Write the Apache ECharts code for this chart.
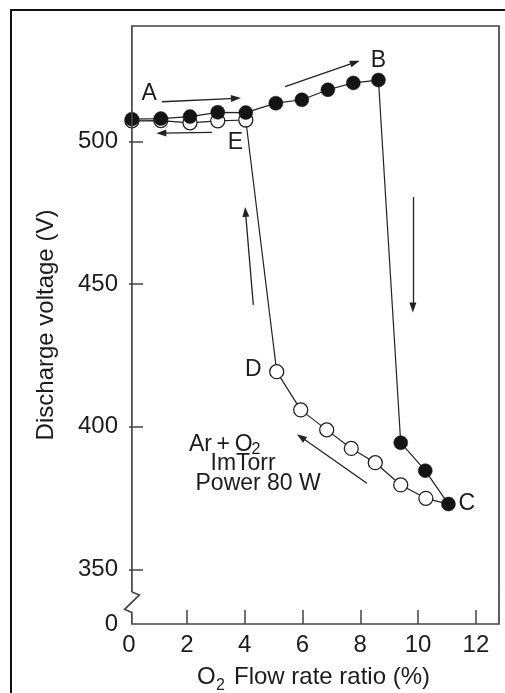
<!DOCTYPE html>
<html>
<head>
<meta charset="utf-8">
<script src="https://cdn.jsdelivr.net/npm/echarts@6/dist/echarts.min.js"></script>
<style>
  html, body { margin: 0; padding: 0; background: #fff; }
  #chart { width: 505px; height: 693px; }
</style>
</head>
<body>
<div id="chart"></div>
<script>
// O2 flow rate ratio (%) and discharge voltage (V) while the O2 share is raised: A -> B -> C
const risingX = [0.10, 1.10, 2.11, 3.07, 4.04, 5.08, 5.98, 6.88, 7.76, 8.63, 9.40, 10.25, 11.05];
const risingV = [507.8, 508.0, 508.7, 510.2, 510.1, 513.4, 514.6, 518.1, 520.5, 521.5, 394.4, 384.6, 372.9];

// ... and while it is lowered again: C -> D -> E -> A
const fallingX = [11.05, 10.27, 9.40, 8.52, 7.69, 6.84, 5.94, 5.11, 4.04, 3.07, 2.11, 1.10, 0.10];
const fallingV = [372.9, 374.9, 379.6, 387.4, 392.4, 398.9, 405.9, 419.3, 507.5, 507.2, 506.5, 507.3, 507.2];

// axis ticks
const xTicks = [2, 4, 6, 8, 10, 12];
const xTickLabels = [0, 2, 4, 6, 8, 10, 12];
const yTicks = [350, 400, 450, 500];

// direction arrows, in axis units: [fromX, fromV, toX, toV]
const arrows = [
  [1.14, 513.9, 3.70, 515.1],
  [2.87, 503.2, 1.12, 502.9],
  [5.40, 519.2, 7.82, 527.7],
  [9.82, 480.5, 9.82, 441.8],
  [4.30, 442.7, 4.03, 475.3],
  [8.23, 380.2, 5.95, 396.4]
];

const X_MIN = 0, X_MAX = 12.8;
const Y_MIN = 330.86, Y_MAX = 540.45;
const AXIS_X = 0.1;            // where the voltage axis crosses
const FONT = "'Liberation Sans', Arial, Helvetica, sans-serif";
const INK = '#1c1c1c';
const FRAME = '#444';

const chart = echarts.init(document.getElementById('chart'), null, { renderer: 'canvas' });

const toPairs = (xs, ys) => xs.map((x, i) => [x, ys[i]]);
const fallingData = toPairs(fallingX, fallingV).map((p, i) =>
  i === 0 ? { value: p, symbol: 'none' } : { value: p });

const tickStyle = { color: FRAME, width: 1.5 };
const labelStyle = { color: INK, fontFamily: FONT, fontSize: 24 };

chart.setOption({
  animation: false,
  backgroundColor: '#fff',
  grid: { left: 129, right: 6, top: 26, bottom: 69 },
  xAxis: {
    type: 'value', min: X_MIN, max: X_MAX,
    axisLine: { show: false },
    splitLine: { show: false },
    axisTick: { show: true, inside: true, length: 14, customValues: xTicks, lineStyle: tickStyle },
    axisLabel: Object.assign({ customValues: xTickLabels, margin: 9 }, labelStyle)
  },
  yAxis: {
    type: 'value', min: Y_MIN, max: Y_MAX,
    axisLine: { show: false },
    splitLine: { show: false },
    axisTick: { show: true, inside: true, length: 14, customValues: yTicks, lineStyle: tickStyle },
    axisLabel: Object.assign({
      customValues: [Y_MIN].concat(yTicks),
      formatter: v => (v < yTicks[0] ? '0' : String(v)),
      margin: 11
    }, labelStyle)
  },
  series: [
    {
      type: 'line',
      name: 'decreasing O2',
      data: fallingData,
      symbol: 'circle',
      symbolSize: 14,
      itemStyle: { color: '#fff', borderColor: '#222', borderWidth: 1.3 },
      lineStyle: { color: '#222', width: 1.2 },
      z: 2,
      markLine: {
        silent: true,
        animation: false,
        symbol: ['none', 'triangle'],
        symbolSize: [7, 10],
        label: { show: false },
        lineStyle: { color: '#222', width: 1.3, type: 'solid' },
        data: arrows.map(a => [{ coord: [a[0], a[1]] }, { coord: [a[2], a[3]] }])
      }
    },
    {
      type: 'line',
      name: 'increasing O2',
      data: toPairs(risingX, risingV),
      symbol: 'circle',
      symbolSize: 14,
      itemStyle: { color: '#141414', borderColor: '#141414', borderWidth: 0.5 },
      lineStyle: { color: '#222', width: 1.2 },
      z: 3
    }
  ]
});

// plot frame, broken voltage axis and annotations
function text(x, y, str, size, align, extra) {
  return Object.assign({
    type: 'text', x: x, y: y, z: 20,
    style: {
      text: str, fill: INK, font: size + 'px ' + FONT,
      textAlign: align || 'center', textVerticalAlign: 'middle',
      align: align || 'center', verticalAlign: 'middle'
    }
  }, extra || {});
}

const tl = chart.convertToPixel({ gridIndex: 0 }, [AXIS_X, Y_MAX]);
const br = chart.convertToPixel({ gridIndex: 0 }, [X_MAX, Y_MIN]);
const L = tl[0], T = tl[1], R = br[0], B = br[1];

chart.setOption({
  graphic: [
    {
      type: 'rect', z: 30, silent: true,
      shape: { x: 11, y: 10, width: 700, height: 800 },
      style: { fill: 'none', stroke: '#111', lineWidth: 2 }
    },
    {
      type: 'polyline', z: 15, silent: true,
      shape: {
        points: [
          [L, B - 32], [L, T], [R, T], [R, B], [L, B], [L, B - 11.5],
          [L - 7.3, B - 14.7], [L + 7.4, B - 29], [L, B - 32]
        ]
      },
      style: { fill: 'none', stroke: FRAME, lineWidth: 1.7, lineJoin: 'miter' }
    },
    text(149.2, 93.3, 'A', 23),
    text(378.3, 60.5, 'B', 23),
    text(466.7, 504, 'C', 23),
    text(253.3, 370, 'D', 23),
    text(235.5, 142.5, 'E', 23),
    text(189, 445, 'Ar\u2009+\u2009O', 23, 'left'),
    text(251.5, 449.5, '2', 16, 'left'),
    text(210.5, 464, 'ImTorr', 23, 'left'),
    text(195.5, 483.3, 'Power 80 W', 23, 'left'),
    text(197, 677.3, 'O', 24, 'left'),
    text(216, 686, '2', 16, 'left'),
    text(234, 677.3, 'Flow rate ratio (%)', 24, 'left'),
    text(46, 325, 'Discharge voltage (V)', 24, 'center', { rotation: Math.PI / 2 })
  ]
});
</script>
</body>
</html>
